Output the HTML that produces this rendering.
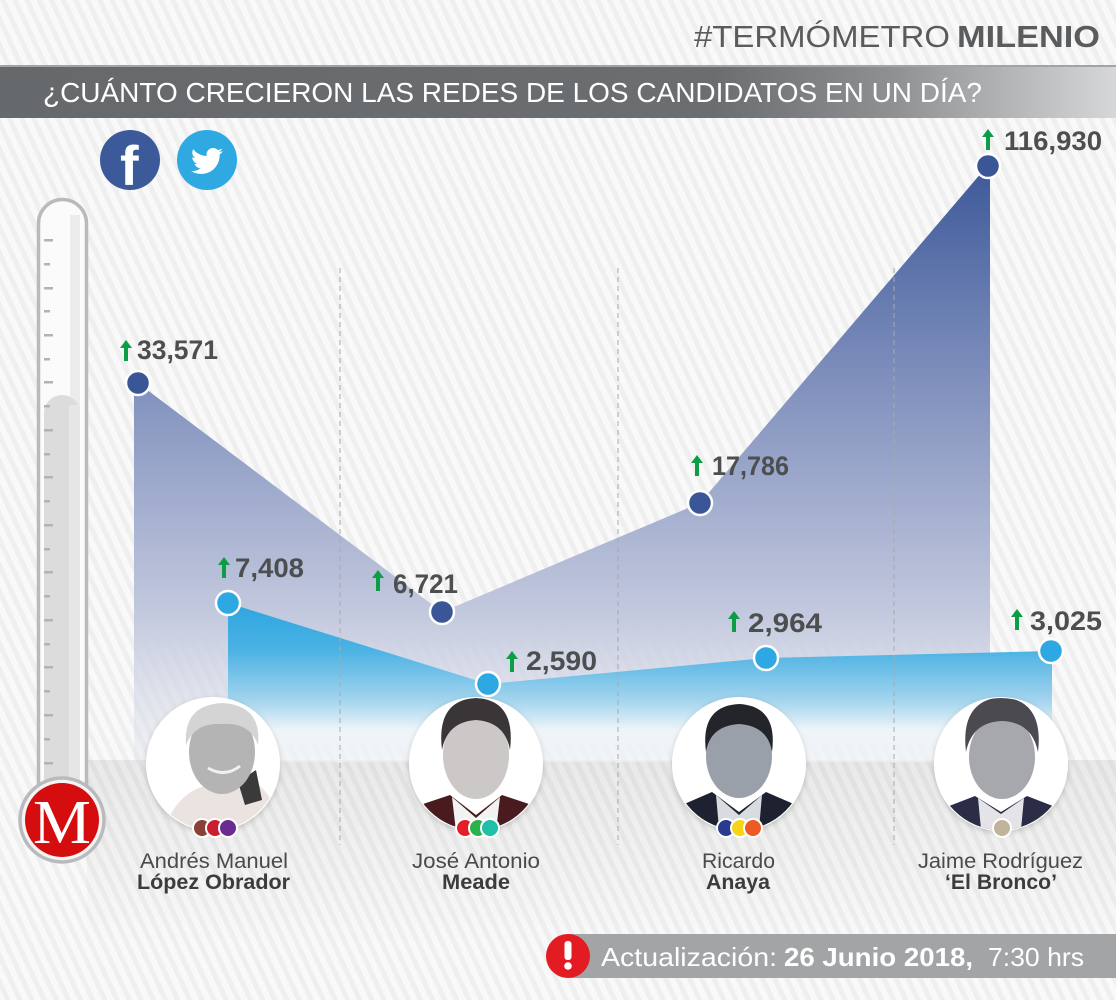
<!DOCTYPE html>
<html><head><meta charset="utf-8"><style>
html,body{margin:0;padding:0;background:#f5f5f5;}
svg{display:block;}
</style></head><body>
<svg width="1116" height="1000" viewBox="0 0 1116 1000" xmlns="http://www.w3.org/2000/svg" font-family="'Liberation Sans', sans-serif">
<defs>
  <pattern id="stripes" patternUnits="userSpaceOnUse" width="11" height="11" patternTransform="rotate(-25)">
    <rect width="11" height="11" fill="#f9f9f9"/>
    <rect width="5" height="11" fill="#efefef"/>
  </pattern>
  <linearGradient id="banner" x1="0" y1="0" x2="1116" y2="0" gradientUnits="userSpaceOnUse">
    <stop offset="0" stop-color="#66696c"/>
    <stop offset="0.64" stop-color="#6b6e71"/>
    <stop offset="0.8" stop-color="#8e9092"/>
    <stop offset="1" stop-color="#d6d7d8"/>
  </linearGradient>
  <linearGradient id="grayband" x1="0" y1="760" x2="0" y2="945" gradientUnits="userSpaceOnUse">
    <stop offset="0" stop-color="#000" stop-opacity="0.065"/>
    <stop offset="1" stop-color="#000" stop-opacity="0"/>
  </linearGradient>
  <linearGradient id="dark" x1="0" y1="165" x2="0" y2="765" gradientUnits="userSpaceOnUse">
    <stop offset="0" stop-color="#3d5999"/>
    <stop offset="0.38" stop-color="#8393bf"/>
    <stop offset="0.75" stop-color="#c3c9de"/>
    <stop offset="1" stop-color="#dfe2ec" stop-opacity="0.3"/>
  </linearGradient>
  <linearGradient id="light" x1="0" y1="603" x2="0" y2="762" gradientUnits="userSpaceOnUse">
    <stop offset="0" stop-color="#2ca6e0"/>
    <stop offset="0.3" stop-color="#4cb2e4"/>
    <stop offset="0.62" stop-color="#a6d5ee"/>
    <stop offset="0.8" stop-color="#eef5f9"/>
    <stop offset="1" stop-color="#f4f6f8" stop-opacity="0.5"/>
  </linearGradient>
  <filter id="sh" x="-20%" y="-20%" width="140%" height="140%">
    <feDropShadow dx="0" dy="2" stdDeviation="3" flood-color="#000" flood-opacity="0.18"/>
  </filter>
  <clipPath id="c1"><circle cx="213" cy="764" r="66"/></clipPath>
  <clipPath id="c2"><circle cx="476" cy="764" r="66"/></clipPath>
  <clipPath id="c3"><circle cx="739" cy="764" r="66"/></clipPath>
  <clipPath id="c4"><circle cx="1001" cy="764" r="66"/></clipPath>
</defs>

<!-- background -->
<rect width="1116" height="1000" fill="url(#stripes)"/>
<rect x="87" y="760" width="1029" height="185" fill="url(#grayband)"/>

<!-- header -->
<text x="694" y="47" font-size="31" fill="#5a5b5d" textLength="256" lengthAdjust="spacingAndGlyphs">#TERMÓMETRO</text>
<text x="957" y="47" font-size="31" font-weight="bold" fill="#5a5b5d" textLength="143" lengthAdjust="spacingAndGlyphs">MILENIO</text>

<!-- banner -->
<rect x="0" y="65" width="1116" height="53" fill="url(#banner)"/>
<rect x="0" y="65" width="1116" height="2" fill="#a2a3a5"/>
<text x="43" y="102" font-size="28" fill="#ffffff" textLength="939" lengthAdjust="spacingAndGlyphs">¿CUÁNTO CRECIERON LAS REDES DE LOS CANDIDATOS EN UN DÍA?</text>

<!-- social icons -->
<circle cx="130" cy="160" r="30" fill="#3c5a99"/>
<text x="120" y="185" font-size="56" font-weight="bold" fill="#ffffff">f</text>
<circle cx="207" cy="160" r="30" fill="#2ea9e1"/>
<path transform="translate(191,145) scale(1.33)" fill="#ffffff" d="M23.954 4.569c-.885.389-1.83.654-2.825.775 1.014-.611 1.794-1.574 2.163-2.723-.951.555-2.005.959-3.127 1.184-.896-.959-2.173-1.559-3.591-1.559-2.717 0-4.920 2.203-4.920 4.917 0 .39.045.765.127 1.124C7.691 8.094 4.066 6.13 1.64 3.161c-.427.722-.666 1.561-.666 2.475 0 1.71.87 3.213 2.188 4.096-.807-.026-1.566-.248-2.228-.616v.061c0 2.385 1.693 4.374 3.946 4.827-.413.111-.849.171-1.296.171-.314 0-.615-.03-.916-.086.631 1.953 2.445 3.377 4.604 3.417-1.68 1.319-3.809 2.105-6.102 2.105-.39 0-.779-.023-1.170-.067 2.189 1.394 4.768 2.209 7.557 2.209 9.054 0 13.999-7.496 13.999-13.986 0-.209 0-.42-.015-.63.961-.689 1.8-1.56 2.46-2.548z"/>

<!-- thermometer -->
<rect x="38.5" y="199.5" width="48" height="620" rx="24" fill="#fbfbfb" stroke="#b9babc" stroke-width="3.5"/>
<rect x="70" y="215" width="10" height="600" fill="#ececec"/>
<rect x="44" y="395" width="36" height="420" rx="18" fill="#dcdcdc"/>
<rect x="69" y="405" width="11" height="410" fill="#e6e6e6"/>
<g fill="#b3b3b3">
  <rect x="44" y="239" width="9" height="2.5"/><rect x="44" y="263" width="6" height="2.5"/>
  <rect x="44" y="287" width="9" height="2.5"/><rect x="44" y="310" width="6" height="2.5"/>
  <rect x="44" y="334" width="9" height="2.5"/><rect x="44" y="358" width="6" height="2.5"/>
  <rect x="44" y="381" width="9" height="2.5"/><rect x="44" y="405" width="6" height="2.5"/>
  <rect x="44" y="429" width="9" height="2.5"/><rect x="44" y="453" width="6" height="2.5"/>
  <rect x="44" y="476" width="9" height="2.5"/><rect x="44" y="500" width="6" height="2.5"/>
  <rect x="44" y="524" width="9" height="2.5"/><rect x="44" y="548" width="6" height="2.5"/>
  <rect x="44" y="571" width="9" height="2.5"/><rect x="44" y="595" width="6" height="2.5"/>
  <rect x="44" y="619" width="9" height="2.5"/><rect x="44" y="643" width="6" height="2.5"/>
  <rect x="44" y="666" width="9" height="2.5"/><rect x="44" y="690" width="6" height="2.5"/>
  <rect x="44" y="714" width="9" height="2.5"/><rect x="44" y="738" width="6" height="2.5"/>
  <rect x="44" y="762" width="9" height="2.5"/>
</g>
<circle cx="62" cy="820" r="42" fill="#f4f4f4" stroke="#b9babc" stroke-width="3.5"/>
<circle cx="62" cy="820" r="37" fill="#d60d0f"/>
<text x="62" y="843" font-size="62" font-family="'Liberation Serif', serif" fill="#ffffff" text-anchor="middle" textLength="58" lengthAdjust="spacingAndGlyphs">M</text>

<!-- areas -->
<path d="M134,383 L138,383 L442,612 L700,503 L988,165 L990,165 L990,762 L134,762 Z" fill="url(#dark)"/>
<path d="M228,603 L488,684 L766,658 L1052,651 L1052,762 L228,762 Z" fill="url(#light)"/>

<!-- dashed separators -->
<g stroke="#a9a9ab" stroke-width="1" stroke-dasharray="5 4">
  <line x1="340" y1="268" x2="340" y2="845"/>
  <line x1="618" y1="268" x2="618" y2="845"/>
  <line x1="894" y1="268" x2="894" y2="845"/>
</g>

<!-- points -->
<g stroke="#ffffff" stroke-width="2.5">
  <circle cx="138" cy="383" r="12" fill="#3b5697"/>
  <circle cx="442" cy="612" r="12" fill="#3b5697"/>
  <circle cx="700" cy="503" r="12" fill="#3b5697"/>
  <circle cx="988" cy="166" r="12" fill="#3b5697"/>
  <circle cx="228" cy="603" r="12" fill="#2da8e2"/>
  <circle cx="488" cy="684" r="12" fill="#2da8e2"/>
  <circle cx="766" cy="658" r="12" fill="#2da8e2"/>
  <circle cx="1051" cy="651" r="12" fill="#2da8e2"/>
</g>

<!-- arrows -->
<g fill="#0b9e47">
  <path d="M126,340 l6,8 h-4 v13 h-4 v-13 h-4 z"/>
  <path d="M224,557 l6,8 h-4 v13 h-4 v-13 h-4 z"/>
  <path d="M378,570 l6,8 h-4 v13 h-4 v-13 h-4 z"/>
  <path d="M512,651 l6,8 h-4 v13 h-4 v-13 h-4 z"/>
  <path d="M697,455 l6,8 h-4 v13 h-4 v-13 h-4 z"/>
  <path d="M734,611 l6,8 h-4 v13 h-4 v-13 h-4 z"/>
  <path d="M988,129 l6,8 h-4 v13 h-4 v-13 h-4 z"/>
  <path d="M1017,609 l6,8 h-4 v13 h-4 v-13 h-4 z"/>
</g>

<!-- value labels -->
<g font-size="27" font-weight="bold" fill="#4d4e50">
  <text x="137" y="359" textLength="81" lengthAdjust="spacingAndGlyphs">33,571</text>
  <text x="235" y="577" textLength="69" lengthAdjust="spacingAndGlyphs">7,408</text>
  <text x="393" y="593" textLength="65" lengthAdjust="spacingAndGlyphs">6,721</text>
  <text x="526" y="670" textLength="71" lengthAdjust="spacingAndGlyphs">2,590</text>
  <text x="712" y="475" textLength="77" lengthAdjust="spacingAndGlyphs">17,786</text>
  <text x="748" y="632" textLength="74" lengthAdjust="spacingAndGlyphs">2,964</text>
  <text x="1004" y="150" textLength="98" lengthAdjust="spacingAndGlyphs">116,930</text>
  <text x="1030" y="630" textLength="72" lengthAdjust="spacingAndGlyphs">3,025</text>
</g>

<!-- photos -->
<g filter="url(#sh)">
  <circle cx="213" cy="764" r="67" fill="#ffffff"/>
  <circle cx="476" cy="764" r="67" fill="#ffffff"/>
  <circle cx="739" cy="764" r="67" fill="#ffffff"/>
  <circle cx="1001" cy="764" r="67" fill="#ffffff"/>
</g>
<g clip-path="url(#c1)">
  <path d="M160,840 Q175,790 210,785 L250,780 Q275,790 285,840 Z" fill="#ebe3e0"/>
  <path d="M238,782 L256,770 L262,800 L245,805 Z" fill="#3a3a3a"/>
  <ellipse cx="222" cy="752" rx="33" ry="42" fill="#b4b4b4"/>
  <path d="M186,745 Q183,705 222,703 Q262,705 258,745 Q250,722 222,724 Q195,722 186,745 Z" fill="#d4d4d4"/>
  <path d="M208,768 Q225,778 240,766" stroke="#f0f0f0" stroke-width="3" fill="none"/>
</g>
<g clip-path="url(#c2)">
  <path d="M410,840 L420,805 L450,795 L476,815 L502,795 L532,805 L542,840 Z" fill="#4a1b1e"/>
  <path d="M452,797 L476,818 L500,797 L495,840 L457,840 Z" fill="#f2f2f2"/>
  <ellipse cx="476" cy="755" rx="33" ry="44" fill="#cdc8c8"/>
  <path d="M442,750 Q436,700 476,698 Q516,700 510,750 Q505,722 476,720 Q447,722 442,750 Z" fill="#3a3536"/>
</g>
<g clip-path="url(#c3)">
  <path d="M672,840 L682,805 L712,792 L739,812 L766,792 L796,805 L806,840 Z" fill="#1e2230"/>
  <path d="M716,795 L739,815 L762,795 L758,840 L720,840 Z" fill="#d8dbe0"/>
  <ellipse cx="739" cy="756" rx="33" ry="42" fill="#9aa0a9"/>
  <path d="M706,752 Q700,706 739,704 Q778,706 772,752 Q768,726 739,724 Q710,726 706,752 Z" fill="#23252b"/>
</g>
<g clip-path="url(#c4)">
  <path d="M934,840 L944,808 L975,796 L1001,812 L1027,796 L1058,808 L1068,840 Z" fill="#2a2d45"/>
  <path d="M978,798 L1001,814 L1024,798 L1020,840 L982,840 Z" fill="#e4e4e8"/>
  <ellipse cx="1002" cy="757" rx="33" ry="42" fill="#a7a7ae"/>
  <path d="M966,752 Q960,700 1002,697 Q1044,700 1038,752 Q1032,722 1002,721 Q972,722 966,752 Z" fill="#4a4a50"/>
</g>

<!-- party dots -->
<g stroke="#ffffff" stroke-width="2">
  <circle cx="202" cy="828" r="9" fill="#8a4136"/>
  <circle cx="215" cy="828" r="9" fill="#c8202f"/>
  <circle cx="228" cy="828" r="9" fill="#6a2c8e"/>
  <circle cx="465" cy="828" r="9" fill="#e3202a"/>
  <circle cx="478" cy="828" r="9" fill="#2bb24c"/>
  <circle cx="490" cy="828" r="9" fill="#1fbfa8"/>
  <circle cx="726" cy="828" r="9" fill="#2a3a8c"/>
  <circle cx="740" cy="828" r="9" fill="#f7d417"/>
  <circle cx="753" cy="828" r="9" fill="#ee5a24"/>
  <circle cx="1002" cy="828" r="9" fill="#c0b49a"/>
</g>

<!-- names -->
<g font-size="21" fill="#4a4a4c">
  <text x="140" y="868" textLength="148" lengthAdjust="spacingAndGlyphs">Andrés Manuel</text>
  <text x="412" y="868" textLength="128" lengthAdjust="spacingAndGlyphs">José Antonio</text>
  <text x="702" y="868" textLength="73" lengthAdjust="spacingAndGlyphs">Ricardo</text>
  <text x="918" y="868" textLength="165" lengthAdjust="spacingAndGlyphs">Jaime Rodríguez</text>
</g>
<g font-size="21" font-weight="bold" fill="#3c3c3e">
  <text x="137" y="889" textLength="153" lengthAdjust="spacingAndGlyphs">López Obrador</text>
  <text x="442" y="889" textLength="68" lengthAdjust="spacingAndGlyphs">Meade</text>
  <text x="706" y="889" textLength="64" lengthAdjust="spacingAndGlyphs">Anaya</text>
  <text x="945" y="889" textLength="112" lengthAdjust="spacingAndGlyphs">‘El Bronco’</text>
</g>

<!-- update bar -->
<rect x="568" y="934" width="548" height="44" fill="#a3a4a6"/>
<circle cx="568" cy="956" r="22" fill="#e31c23"/>
<rect x="564.5" y="941" width="7" height="19" rx="3" fill="#ffffff"/>
<circle cx="568" cy="966" r="3.8" fill="#ffffff"/>
<text x="601" y="966" font-size="26" fill="#ffffff" textLength="176" lengthAdjust="spacingAndGlyphs">Actualización:</text>
<text x="784" y="966" font-size="26" font-weight="bold" fill="#ffffff" textLength="189" lengthAdjust="spacingAndGlyphs">26 Junio 2018,</text>
<text x="988" y="966" font-size="26" fill="#ffffff" textLength="96" lengthAdjust="spacingAndGlyphs">7:30 hrs</text>
</svg>
</body></html>
